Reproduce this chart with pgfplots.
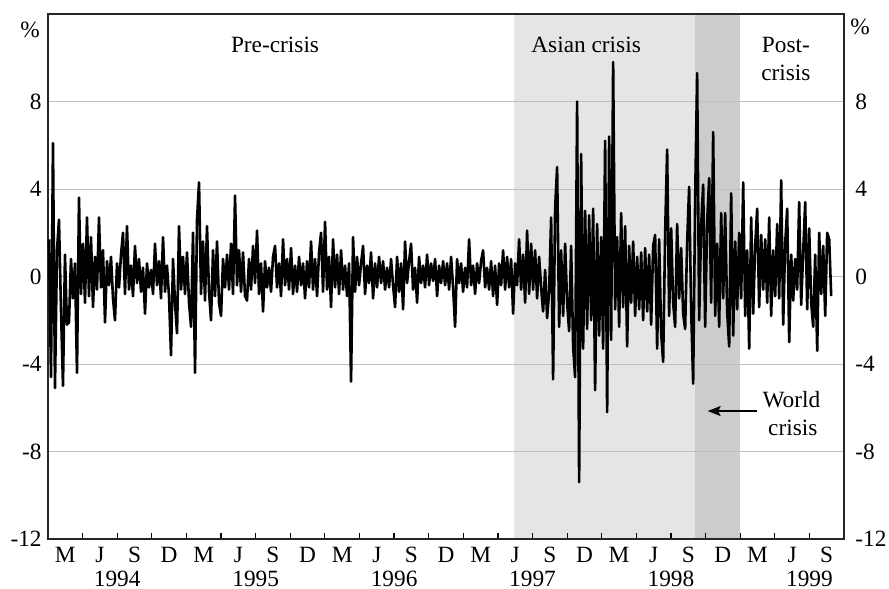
\documentclass[border=0pt]{standalone}
\usepackage{fontspec}
\setmainfont{Liberation Serif}
\usepackage{pgfplots}
\usepackage{pgfplotstable}
\pgfplotsset{compat=1.18}
\usetikzlibrary{arrows.meta}

% daily returns, one value every ~3 trading days, Jan 1994 - Sep 1999
\pgfplotstableread[row sep=\\]{
r\\
1.7\\ -4.6\\ 6.1\\ -5.1\\ 1.2\\ 2.6\\ -1.5\\ -5.0\\ 1.0\\ -2.2\\
-2.1\\ 0.8\\ -1.0\\ 0.6\\ -4.4\\ 3.6\\ -0.8\\ 1.5\\ -1.2\\ 2.7\\
-0.9\\ 1.8\\ -1.4\\ 0.9\\ -0.6\\ 2.7\\ -0.5\\ 1.2\\ -2.1\\ 0.7\\
-0.4\\ 0.9\\ -1.0\\ -2.0\\ 0.6\\ -0.5\\ 1.0\\ 2.0\\ -0.8\\ 2.3\\
-0.6\\ 0.5\\ -0.9\\ 1.4\\ -0.3\\ 0.8\\ -0.7\\ 0.4\\ -1.7\\ 0.6\\
-0.5\\ 0.3\\ -0.8\\ 1.5\\ -0.4\\ 0.7\\ -1.0\\ 1.8\\ -0.7\\ 0.5\\
-0.9\\ -3.6\\ 0.8\\ -1.2\\ -2.6\\ 2.3\\ -0.6\\ 0.9\\ -0.8\\ 1.1\\
-1.2\\ -2.3\\ 2.0\\ -4.4\\ 2.6\\ 4.3\\ -0.8\\ 1.6\\ -1.1\\ 2.3\\
-0.7\\ -2.0\\ 1.2\\ -0.9\\ 1.6\\ -1.2\\ -1.8\\ 0.8\\ -0.5\\ 1.0\\
-0.6\\ 1.5\\ -0.8\\ 3.7\\ -0.4\\ 1.2\\ -0.7\\ 1.1\\ -0.9\\ -1.1\\
0.8\\ -0.6\\ 1.4\\ -0.3\\ 2.1\\ -0.8\\ 0.6\\ -1.6\\ 0.7\\ -0.5\\
0.4\\ -0.7\\ 0.9\\ 1.4\\ -0.5\\ 0.6\\ -0.9\\ 1.7\\ -0.4\\ 0.8\\
-0.6\\ 1.3\\ -0.8\\ 0.5\\ -0.7\\ 0.9\\ -0.4\\ 0.6\\ -1.0\\ 0.7\\
-0.5\\ 1.6\\ -0.6\\ 0.8\\ -0.9\\ 1.1\\ 2.0\\ -0.7\\ 2.5\\ -0.6\\
0.9\\ -1.4\\ 1.7\\ -0.5\\ 1.0\\ -0.8\\ 1.2\\ -0.6\\ 0.5\\ -0.9\\
0.6\\ -4.8\\ 1.8\\ -0.7\\ 0.9\\ -0.4\\ 0.6\\ 1.4\\ -0.8\\ 0.5\\
-0.3\\ 1.1\\ -1.0\\ 0.6\\ -0.5\\ 0.9\\ -0.3\\ 0.7\\ -0.6\\ 0.4\\
-0.5\\ 0.8\\ -0.4\\ -1.4\\ 0.9\\ -0.7\\ 0.6\\ -1.5\\ 1.6\\ -0.3\\
0.7\\ 1.5\\ -0.6\\ 0.4\\ -1.2\\ 0.9\\ -0.3\\ 0.5\\ -0.5\\ 1.0\\
-0.4\\ 0.6\\ -0.2\\ 0.8\\ -0.9\\ 0.5\\ -0.3\\ 0.7\\ -0.4\\ 0.6\\
-0.6\\ 0.9\\ -0.5\\ -2.3\\ 0.8\\ -0.3\\ 0.6\\ -0.7\\ 0.4\\ -0.5\\
1.7\\ -0.4\\ 0.5\\ -0.8\\ 0.6\\ -0.3\\ 0.7\\ 1.2\\ -0.5\\ 0.4\\
-0.6\\ 0.7\\ -0.9\\ 0.5\\ -1.3\\ 0.6\\ -0.4\\ 1.2\\ -0.6\\ 0.9\\
-0.5\\ 0.8\\ -1.7\\ 0.6\\ -0.4\\ 1.7\\ -0.6\\ 1.0\\ -1.2\\ 2.1\\
-0.8\\ 1.5\\ -0.6\\ 1.2\\ -1.0\\ 0.9\\ -0.5\\ -1.6\\ 0.3\\ -1.9\\
-0.7\\ 2.7\\ -4.7\\ 3.1\\ 5.0\\ -2.3\\ 1.2\\ -1.8\\ 1.5\\ -1.2\\
-2.5\\ 1.4\\ -3.2\\ -4.6\\ 8.0\\ -9.4\\ 5.6\\ -3.3\\ 3.0\\ -2.4\\
2.8\\ -2.0\\ 3.1\\ -5.2\\ 2.4\\ -2.7\\ 1.8\\ -3.3\\ 6.2\\ -6.2\\
6.4\\ -2.9\\ 9.8\\ -1.5\\ 1.8\\ -2.3\\ 2.9\\ -1.4\\ 2.3\\ -3.2\\
1.4\\ -1.2\\ 1.6\\ -1.8\\ 0.9\\ -1.5\\ 1.1\\ -2.0\\ 1.3\\ -1.6\\
1.0\\ -2.2\\ 1.4\\ 1.9\\ -3.3\\ 1.7\\ -2.6\\ -3.9\\ 2.0\\ 5.8\\
-1.8\\ 2.2\\ -1.2\\ -2.3\\ 2.4\\ -1.0\\ 1.3\\ -1.7\\ -2.4\\ 1.6\\
4.1\\ -1.5\\ -4.9\\ 3.6\\ 9.3\\ -2.0\\ 2.3\\ 4.2\\ -2.3\\ 2.5\\
4.5\\ -1.2\\ 6.6\\ -1.8\\ 1.5\\ -2.3\\ 2.9\\ -1.0\\ 2.9\\ -1.6\\
-3.2\\ 3.8\\ -2.7\\ 1.6\\ -1.5\\ 2.0\\ -1.0\\ 4.3\\ -1.8\\ 1.2\\
-3.3\\ 2.7\\ -1.7\\ 1.4\\ 3.1\\ -1.4\\ 1.9\\ -0.6\\ 1.7\\ -1.2\\
2.7\\ -1.8\\ 1.2\\ -0.9\\ 2.4\\ -1.0\\ 4.4\\ -2.2\\ 1.5\\ 3.1\\
-3.0\\ 1.0\\ -1.1\\ 0.8\\ -0.6\\ 3.4\\ -1.3\\ 1.1\\ 3.4\\ -1.5\\
2.2\\ -1.2\\ -2.3\\ 1.0\\ -3.4\\ 2.0\\ -0.8\\ 1.4\\ -1.8\\ 2.0\\ 1.7\\ -0.9\\
}\returns

\begin{document}
\fontsize{11.7}{14}\selectfont
\begin{tikzpicture}
\begin{axis}[
    set layers,
    clip=false,
    scale only axis,
    width=398bp, height=262.5bp,
    xmin=1994, xmax=1999.75,
    ymin=-12, ymax=12,
    axis line style={line width=0.6bp, black!85},
    xtick={1994.125,1994.375,1994.625,1994.875,1995.125,1995.375,1995.625,1995.875,
           1996.125,1996.375,1996.625,1996.875,1997.125,1997.375,1997.625,1997.875,
           1998.125,1998.375,1998.625,1998.875,1999.125,1999.375,1999.625},
    xticklabels={M,J,S,D,M,J,S,D,M,J,S,D,M,J,S,D,M,J,S,D,M,J,S},
    minor xtick={1994.25,1994.5,1994.75,1995,1995.25,1995.5,1995.75,1996,1996.25,1996.5,1996.75,
                 1997,1997.25,1997.5,1997.75,1998,1998.25,1998.5,1998.75,1999,1999.25,1999.5},
    xtick pos=left,
    major x tick style={draw=none},
    minor x tick style={black, line width=0.6bp},
    minor tick length=3bp,
    xticklabel style={anchor=base, yshift=-11.5bp, inner sep=0pt},
    ytick={-12,-8,-4,0,4,8},
    yticklabels={-12,-8,-4,0,4,8},
    ytick style={draw=none},
    yticklabel style={inner sep=0pt, xshift=-3bp},
    ymajorgrids,
    grid style={black!25, line width=0.5bp},
]
\begin{pgfonlayer}{axis background}
\fill[black!10] (axis cs:1997.367,-12) rectangle (axis cs:1998.675,12);
\fill[black!20] (axis cs:1998.675,-12) rectangle (axis cs:1999.0,12);
\end{pgfonlayer}

\addplot[black, line width=1.3bp, line join=round]
    table[x expr={1994+(2*\coordindex+1)/138.4}, y=r] {\returns};

\node[anchor=base] at (axis cs:1995.64,10.22) {Pre-crisis};
\node[anchor=base] at (axis cs:1997.887,10.22) {Asian crisis};
\node[anchor=base] at (axis cs:1999.33,10.22) {Post-};
\node[anchor=base] at (axis cs:1999.33,8.94) {crisis};
\node[anchor=base] at (axis cs:1999.37,-6.01) {World};
\node[anchor=base] at (axis cs:1999.38,-7.25) {crisis};
\draw[-{Stealth[length=6.5bp,width=5bp,inset=1.2bp]}, line width=0.7bp]
    (axis cs:1999.123,-6.15) -- (axis cs:1998.765,-6.15);

\pgfplotsinvokeforeach{1994,...,1999}{
  \node[anchor=base, inner sep=0pt, yshift=-23.5bp] at (axis cs:#1.5,-12) {#1};
}
\pgfplotsinvokeforeach{-12,-8,-4,0,4,8}{
  \node[anchor=west, inner sep=0pt, xshift=5.5bp] at (axis cs:1999.75,#1) {#1};
}
\node[xshift=-9bp, yshift=-8bp] at (rel axis cs:0,1) {\%};
\node[xshift=8bp, yshift=-6.5bp] at (rel axis cs:1,1) {\%};
\end{axis}
\pgfresetboundingbox
\path[use as bounding box] ([xshift=-24bp,yshift=-24.5bp]current axis.south west)
    rectangle ([xshift=22.5bp,yshift=7bp]current axis.north east);
\end{tikzpicture}
\end{document}
